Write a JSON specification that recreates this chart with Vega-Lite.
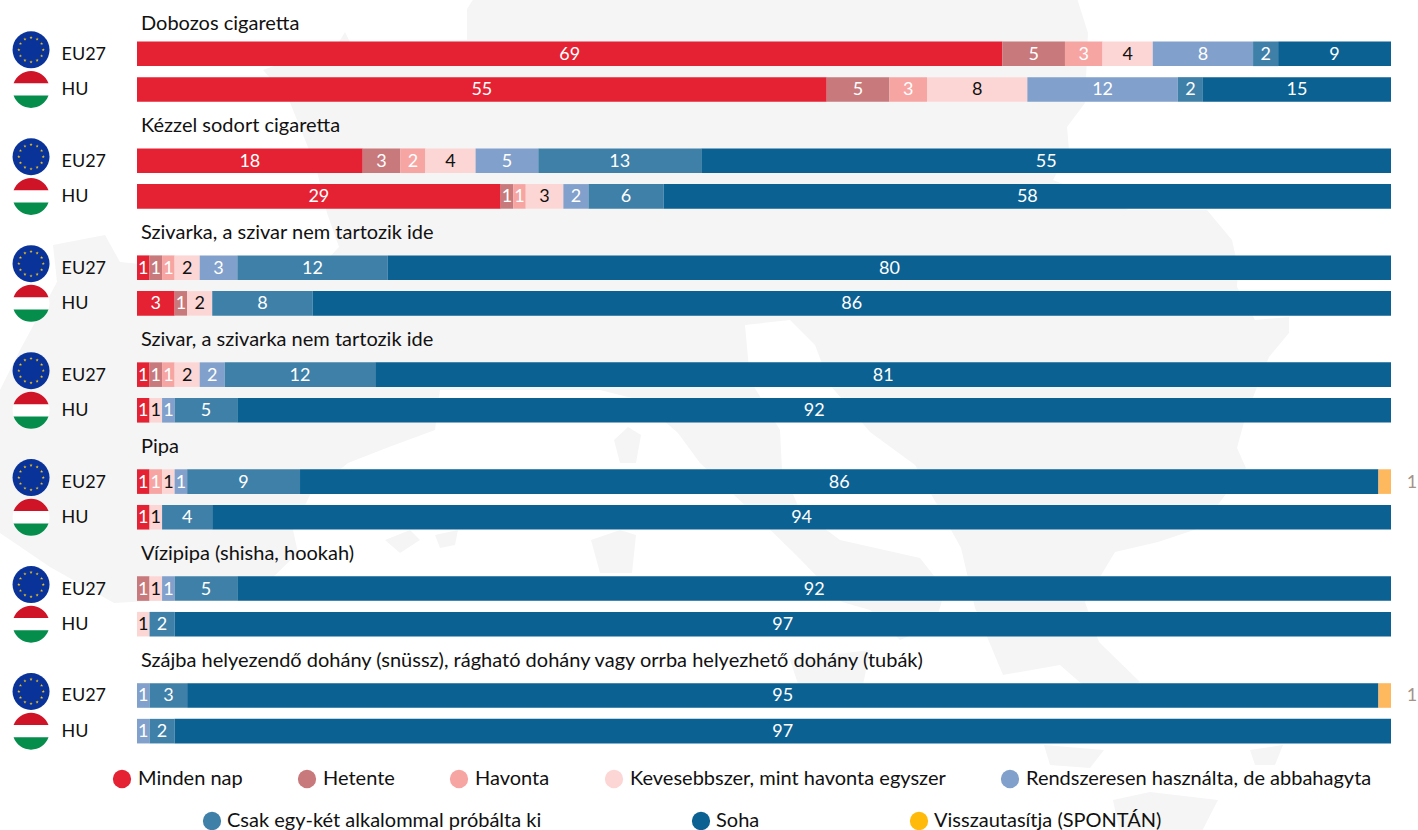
{
"$schema":"https://vega.github.io/schema/vega-lite/v6.json",
"width":1418,"height":830,"autosize":{"type":"none"},"padding":0,"background":"white",
"config":{"view":{"stroke":null},"font":"Lato","text":{"font":"Lato"}},
"datasets":{
"adatok":[
{"termek":"Dobozos cigaretta","orszag":"EU27","kategoria":"Minden nap","ertek":69},
{"termek":"Dobozos cigaretta","orszag":"EU27","kategoria":"Hetente","ertek":5},
{"termek":"Dobozos cigaretta","orszag":"EU27","kategoria":"Havonta","ertek":3},
{"termek":"Dobozos cigaretta","orszag":"EU27","kategoria":"Kevesebbszer, mint havonta egyszer","ertek":4},
{"termek":"Dobozos cigaretta","orszag":"EU27","kategoria":"Rendszeresen használta, de abbahagyta","ertek":8},
{"termek":"Dobozos cigaretta","orszag":"EU27","kategoria":"Csak egy-két alkalommal próbálta ki","ertek":2},
{"termek":"Dobozos cigaretta","orszag":"EU27","kategoria":"Soha","ertek":9},
{"termek":"Dobozos cigaretta","orszag":"HU","kategoria":"Minden nap","ertek":55},
{"termek":"Dobozos cigaretta","orszag":"HU","kategoria":"Hetente","ertek":5},
{"termek":"Dobozos cigaretta","orszag":"HU","kategoria":"Havonta","ertek":3},
{"termek":"Dobozos cigaretta","orszag":"HU","kategoria":"Kevesebbszer, mint havonta egyszer","ertek":8},
{"termek":"Dobozos cigaretta","orszag":"HU","kategoria":"Rendszeresen használta, de abbahagyta","ertek":12},
{"termek":"Dobozos cigaretta","orszag":"HU","kategoria":"Csak egy-két alkalommal próbálta ki","ertek":2},
{"termek":"Dobozos cigaretta","orszag":"HU","kategoria":"Soha","ertek":15},
{"termek":"Kézzel sodort cigaretta","orszag":"EU27","kategoria":"Minden nap","ertek":18},
{"termek":"Kézzel sodort cigaretta","orszag":"EU27","kategoria":"Hetente","ertek":3},
{"termek":"Kézzel sodort cigaretta","orszag":"EU27","kategoria":"Havonta","ertek":2},
{"termek":"Kézzel sodort cigaretta","orszag":"EU27","kategoria":"Kevesebbszer, mint havonta egyszer","ertek":4},
{"termek":"Kézzel sodort cigaretta","orszag":"EU27","kategoria":"Rendszeresen használta, de abbahagyta","ertek":5},
{"termek":"Kézzel sodort cigaretta","orszag":"EU27","kategoria":"Csak egy-két alkalommal próbálta ki","ertek":13},
{"termek":"Kézzel sodort cigaretta","orszag":"EU27","kategoria":"Soha","ertek":55},
{"termek":"Kézzel sodort cigaretta","orszag":"HU","kategoria":"Minden nap","ertek":29},
{"termek":"Kézzel sodort cigaretta","orszag":"HU","kategoria":"Hetente","ertek":1},
{"termek":"Kézzel sodort cigaretta","orszag":"HU","kategoria":"Havonta","ertek":1},
{"termek":"Kézzel sodort cigaretta","orszag":"HU","kategoria":"Kevesebbszer, mint havonta egyszer","ertek":3},
{"termek":"Kézzel sodort cigaretta","orszag":"HU","kategoria":"Rendszeresen használta, de abbahagyta","ertek":2},
{"termek":"Kézzel sodort cigaretta","orszag":"HU","kategoria":"Csak egy-két alkalommal próbálta ki","ertek":6},
{"termek":"Kézzel sodort cigaretta","orszag":"HU","kategoria":"Soha","ertek":58},
{"termek":"Szivarka, a szivar nem tartozik ide","orszag":"EU27","kategoria":"Minden nap","ertek":1},
{"termek":"Szivarka, a szivar nem tartozik ide","orszag":"EU27","kategoria":"Hetente","ertek":1},
{"termek":"Szivarka, a szivar nem tartozik ide","orszag":"EU27","kategoria":"Havonta","ertek":1},
{"termek":"Szivarka, a szivar nem tartozik ide","orszag":"EU27","kategoria":"Kevesebbszer, mint havonta egyszer","ertek":2},
{"termek":"Szivarka, a szivar nem tartozik ide","orszag":"EU27","kategoria":"Rendszeresen használta, de abbahagyta","ertek":3},
{"termek":"Szivarka, a szivar nem tartozik ide","orszag":"EU27","kategoria":"Csak egy-két alkalommal próbálta ki","ertek":12},
{"termek":"Szivarka, a szivar nem tartozik ide","orszag":"EU27","kategoria":"Soha","ertek":80},
{"termek":"Szivarka, a szivar nem tartozik ide","orszag":"HU","kategoria":"Minden nap","ertek":3},
{"termek":"Szivarka, a szivar nem tartozik ide","orszag":"HU","kategoria":"Hetente","ertek":1},
{"termek":"Szivarka, a szivar nem tartozik ide","orszag":"HU","kategoria":"Kevesebbszer, mint havonta egyszer","ertek":2},
{"termek":"Szivarka, a szivar nem tartozik ide","orszag":"HU","kategoria":"Csak egy-két alkalommal próbálta ki","ertek":8},
{"termek":"Szivarka, a szivar nem tartozik ide","orszag":"HU","kategoria":"Soha","ertek":86},
{"termek":"Szivar, a szivarka nem tartozik ide","orszag":"EU27","kategoria":"Minden nap","ertek":1},
{"termek":"Szivar, a szivarka nem tartozik ide","orszag":"EU27","kategoria":"Hetente","ertek":1},
{"termek":"Szivar, a szivarka nem tartozik ide","orszag":"EU27","kategoria":"Havonta","ertek":1},
{"termek":"Szivar, a szivarka nem tartozik ide","orszag":"EU27","kategoria":"Kevesebbszer, mint havonta egyszer","ertek":2},
{"termek":"Szivar, a szivarka nem tartozik ide","orszag":"EU27","kategoria":"Rendszeresen használta, de abbahagyta","ertek":2},
{"termek":"Szivar, a szivarka nem tartozik ide","orszag":"EU27","kategoria":"Csak egy-két alkalommal próbálta ki","ertek":12},
{"termek":"Szivar, a szivarka nem tartozik ide","orszag":"EU27","kategoria":"Soha","ertek":81},
{"termek":"Szivar, a szivarka nem tartozik ide","orszag":"HU","kategoria":"Minden nap","ertek":1},
{"termek":"Szivar, a szivarka nem tartozik ide","orszag":"HU","kategoria":"Kevesebbszer, mint havonta egyszer","ertek":1},
{"termek":"Szivar, a szivarka nem tartozik ide","orszag":"HU","kategoria":"Rendszeresen használta, de abbahagyta","ertek":1},
{"termek":"Szivar, a szivarka nem tartozik ide","orszag":"HU","kategoria":"Csak egy-két alkalommal próbálta ki","ertek":5},
{"termek":"Szivar, a szivarka nem tartozik ide","orszag":"HU","kategoria":"Soha","ertek":92},
{"termek":"Pipa","orszag":"EU27","kategoria":"Minden nap","ertek":1},
{"termek":"Pipa","orszag":"EU27","kategoria":"Havonta","ertek":1},
{"termek":"Pipa","orszag":"EU27","kategoria":"Kevesebbszer, mint havonta egyszer","ertek":1},
{"termek":"Pipa","orszag":"EU27","kategoria":"Rendszeresen használta, de abbahagyta","ertek":1},
{"termek":"Pipa","orszag":"EU27","kategoria":"Csak egy-két alkalommal próbálta ki","ertek":9},
{"termek":"Pipa","orszag":"EU27","kategoria":"Soha","ertek":86},
{"termek":"Pipa","orszag":"EU27","kategoria":"Visszautasítja (SPONTÁN)","ertek":1},
{"termek":"Pipa","orszag":"HU","kategoria":"Minden nap","ertek":1},
{"termek":"Pipa","orszag":"HU","kategoria":"Kevesebbszer, mint havonta egyszer","ertek":1},
{"termek":"Pipa","orszag":"HU","kategoria":"Csak egy-két alkalommal próbálta ki","ertek":4},
{"termek":"Pipa","orszag":"HU","kategoria":"Soha","ertek":94},
{"termek":"Vízipipa (shisha, hookah)","orszag":"EU27","kategoria":"Hetente","ertek":1},
{"termek":"Vízipipa (shisha, hookah)","orszag":"EU27","kategoria":"Kevesebbszer, mint havonta egyszer","ertek":1},
{"termek":"Vízipipa (shisha, hookah)","orszag":"EU27","kategoria":"Rendszeresen használta, de abbahagyta","ertek":1},
{"termek":"Vízipipa (shisha, hookah)","orszag":"EU27","kategoria":"Csak egy-két alkalommal próbálta ki","ertek":5},
{"termek":"Vízipipa (shisha, hookah)","orszag":"EU27","kategoria":"Soha","ertek":92},
{"termek":"Vízipipa (shisha, hookah)","orszag":"HU","kategoria":"Kevesebbszer, mint havonta egyszer","ertek":1},
{"termek":"Vízipipa (shisha, hookah)","orszag":"HU","kategoria":"Csak egy-két alkalommal próbálta ki","ertek":2},
{"termek":"Vízipipa (shisha, hookah)","orszag":"HU","kategoria":"Soha","ertek":97},
{"termek":"Szájba helyezendő dohány (snüssz), rágható dohány vagy orrba helyezhető dohány (tubák)","orszag":"EU27","kategoria":"Rendszeresen használta, de abbahagyta","ertek":1},
{"termek":"Szájba helyezendő dohány (snüssz), rágható dohány vagy orrba helyezhető dohány (tubák)","orszag":"EU27","kategoria":"Csak egy-két alkalommal próbálta ki","ertek":3},
{"termek":"Szájba helyezendő dohány (snüssz), rágható dohány vagy orrba helyezhető dohány (tubák)","orszag":"EU27","kategoria":"Soha","ertek":95},
{"termek":"Szájba helyezendő dohány (snüssz), rágható dohány vagy orrba helyezhető dohány (tubák)","orszag":"EU27","kategoria":"Visszautasítja (SPONTÁN)","ertek":1},
{"termek":"Szájba helyezendő dohány (snüssz), rágható dohány vagy orrba helyezhető dohány (tubák)","orszag":"HU","kategoria":"Rendszeresen használta, de abbahagyta","ertek":1},
{"termek":"Szájba helyezendő dohány (snüssz), rágható dohány vagy orrba helyezhető dohány (tubák)","orszag":"HU","kategoria":"Csak egy-két alkalommal próbálta ki","ertek":2},
{"termek":"Szájba helyezendő dohány (snüssz), rágható dohány vagy orrba helyezhető dohány (tubák)","orszag":"HU","kategoria":"Soha","ertek":97}
],
"termekek":[
{"termek":"Dobozos cigaretta"},
{"termek":"Kézzel sodort cigaretta"},
{"termek":"Szivarka, a szivar nem tartozik ide"},
{"termek":"Szivar, a szivarka nem tartozik ide"},
{"termek":"Pipa"},
{"termek":"Vízipipa (shisha, hookah)"},
{"termek":"Szájba helyezendő dohány (snüssz), rágható dohány vagy orrba helyezhető dohány (tubák)"}
]
},
"layer":[
{"data":{"values":{"type":"FeatureCollection","features":[
{"type":"Feature","properties":{"nev":"EU"},"geometry":{"type":"MultiPolygon","coordinates":[
[[[467,9],[476,-5],[1076,-5],[1088,33],[1085,103],[1067,127],[1069,150],[1053,180],[1129,210],[1207,210],[1232,240],[1238,267],[1237,287],[1255,320],[1289,317],[1289,333],[1269,357],[1246,415],[1237,448],[1246,468],[1200,528],[1158,542],[1115,552],[1085,602],[1099,642],[1140,682],[1100,700],[1060,665],[1003,675],[975,608],[961,548],[915,465],[870,432],[830,385],[815,345],[790,320],[745,325],[750,380],[780,430],[782,470],[800,510],[840,540],[920,558],[945,590],[935,625],[900,640],[870,610],[842,602],[796,555],[750,510],[700,463],[678,433],[640,400],[600,390],[440,390],[435,430],[389,447],[348,463],[311,493],[293,530],[298,553],[270,580],[200,598],[114,603],[50,567],[0,533],[-5,533],[-5,400],[20,350],[57,282],[53,245],[105,235],[120,262],[200,270],[325,262],[339,247],[327,213],[316,167],[289,100],[263,70],[339,42],[345,32],[350,42],[467,40],[467,9]]],
[[[614,440],[628,427],[641,435],[636,463],[620,463],[614,440]]],
[[[591,540],[620,530],[636,535],[632,573],[600,573],[591,540]]],
[[[385,540],[410,530],[420,540],[400,553],[385,540]]],
[[[435,535],[458,530],[455,545],[440,548],[435,535]]],
[[[790,660],[870,650],[860,700],[800,690],[790,660]]],
[[[1044,745],[1104,750],[1090,768],[1050,765],[1044,745]]],
[[[1250,750],[1283,745],[1275,765],[1255,765],[1250,750]]],
[[[1113,800],[1150,792],[1218,800],[1200,835],[1120,835],[1113,800]]]
]}}
]},"format":{"type":"json","property":"features"}},
"mark":{"type":"geoshape","fill":"#f5f5f5","stroke":null},
"projection":{"type":"identity","scale":1,"translate":[0,0]}},
{"encoding":{"y":{"field":"sor","type":"nominal","scale":{"type":"band","range":[-5.2,754.5],"paddingInner":0.31,"paddingOuter":0.31,
"domain":["Dobozos cigaretta|","Dobozos cigaretta|EU27","Dobozos cigaretta|HU","Kézzel sodort cigaretta|","Kézzel sodort cigaretta|EU27","Kézzel sodort cigaretta|HU","Szivarka, a szivar nem tartozik ide|","Szivarka, a szivar nem tartozik ide|EU27","Szivarka, a szivar nem tartozik ide|HU","Szivar, a szivarka nem tartozik ide|","Szivar, a szivarka nem tartozik ide|EU27","Szivar, a szivarka nem tartozik ide|HU","Pipa|","Pipa|EU27","Pipa|HU","Vízipipa (shisha, hookah)|","Vízipipa (shisha, hookah)|EU27","Vízipipa (shisha, hookah)|HU","Szájba helyezendő dohány (snüssz), rágható dohány vagy orrba helyezhető dohány (tubák)|","Szájba helyezendő dohány (snüssz), rágható dohány vagy orrba helyezhető dohány (tubák)|EU27","Szájba helyezendő dohány (snüssz), rágható dohány vagy orrba helyezhető dohány (tubák)|HU"]},
"axis":{"title":null,"domain":false,"ticks":false,"grid":false,"labelExpr":"split(datum.value,'|')[1]","labelAlign":"left","labelPadding":0,"labelOffset":1,"offset":-61,"labelFont":"Lato","labelFontSize":18,"labelColor":"#111111","labelOverlap":false,"labelLimit":100,"zindex":1}}},
"layer":[
{"data":{"name":"adatok"},"transform":[{"calculate":"datum.termek+'|'+datum.orszag","as":"sor"},{"stack":"ertek","groupby":["sor"],"as":["s0","s1"]},{"filter":"indexof(['Minden nap','Hetente','Havonta','Kevesebbszer, mint havonta egyszer','Rendszeresen használta, de abbahagyta'],datum.kategoria)>=0"}],
"mark":{"type":"bar"},
"encoding":{"x":{"field":"s0","type":"quantitative","scale":{"domain":[0,100],"range":[137,1391],"nice":false},"axis":null},"x2":{"field":"s1"},
"color":{"field":"kategoria","type":"nominal","sort":null,"scale":{"domain":["Minden nap","Hetente","Havonta","Kevesebbszer, mint havonta egyszer","Rendszeresen használta, de abbahagyta"],"range":["#e42233","#c8797b","#f6a5a3","#fcd6d5","#81a0cb"]},
"legend":{"title":null,"orient":"none","legendX":112,"legendY":769,"columns":5,"direction":"horizontal","columnPadding":54,"symbolType":"circle","symbolSize":335,"labelFont":"Lato","labelFontSize":20,"labelColor":"#111111","labelOffset":6,"labelLimit":500,"padding":0,"symbolStrokeWidth":0,"symbolOpacity":1}}}},
{"data":{"name":"adatok"},"transform":[{"calculate":"datum.termek+'|'+datum.orszag","as":"sor"},{"stack":"ertek","groupby":["sor"],"as":["s0","s1"]},{"filter":"indexof(['Csak egy-két alkalommal próbálta ki','Soha'],datum.kategoria)>=0"}],
"mark":{"type":"bar"},
"encoding":{"x":{"field":"s0","type":"quantitative"},"x2":{"field":"s1"},
"color":{"field":"kategoria","type":"nominal","sort":null,"scale":{"domain":["Csak egy-két alkalommal próbálta ki","Soha","Visszautasítja (SPONTÁN)"],"range":["#3f80a9","#0c6193","#ffba0a"]},
"legend":{"title":null,"orient":"none","legendX":202,"legendY":811,"columns":3,"direction":"horizontal","columnPadding":149,"symbolType":"circle","symbolSize":335,"labelFont":"Lato","labelFontSize":20,"labelColor":"#111111","labelOffset":5,"labelLimit":500,"padding":0,"symbolStrokeWidth":0,"symbolOpacity":1}}}},
{"data":{"name":"adatok"},"transform":[{"calculate":"datum.termek+'|'+datum.orszag","as":"sor"},{"stack":"ertek","groupby":["sor"],"as":["s0","s1"]},{"filter":"datum.kategoria==='Visszautasítja (SPONTÁN)'"}],
"mark":{"type":"bar","color":"#feb85e"},
"encoding":{"x":{"field":"s0","type":"quantitative"},"x2":{"field":"s1"}}},
{"data":{"name":"adatok"},"transform":[{"calculate":"datum.termek+'|'+datum.orszag","as":"sor"},{"stack":"ertek","groupby":["sor"],"as":["s0","s1"]},{"calculate":"(datum.s0+datum.s1)/2","as":"kozep"},{"filter":"datum.kategoria!=='Visszautasítja (SPONTÁN)'"}],
"mark":{"type":"text","font":"Lato","fontSize":18,"baseline":"middle","align":"center","dy":1},
"encoding":{"x":{"field":"kozep","type":"quantitative"},"text":{"field":"ertek","type":"quantitative"},
"color":{"condition":{"test":"datum.kategoria==='Kevesebbszer, mint havonta egyszer'","value":"#111111"},"value":"#ffffff"}}},
{"data":{"name":"adatok"},"transform":[{"calculate":"datum.termek+'|'+datum.orszag","as":"sor"},{"stack":"ertek","groupby":["sor"],"as":["s0","s1"]},{"filter":"datum.kategoria==='Visszautasítja (SPONTÁN)'"}],
"mark":{"type":"text","font":"Lato","fontSize":18,"baseline":"middle","align":"center","dx":21,"dy":1,"color":"#a59389"},
"encoding":{"x":{"field":"s1","type":"quantitative"},"text":{"field":"ertek","type":"quantitative"}}},
{"data":{"name":"termekek"},"transform":[{"calculate":"datum.termek+'|'","as":"sor"},{"filter":"datum.termek!=='Dobozos cigaretta'"}],
"mark":{"type":"text","font":"Lato","fontSize":20,"baseline":"middle","align":"left","dx":4,"dy":1,"color":"#111111"},
"encoding":{"x":{"datum":0,"type":"quantitative"},"text":{"field":"termek"}}},
{"data":{"name":"termekek"},"transform":[{"calculate":"datum.termek+'|'","as":"sor"},{"filter":"datum.termek==='Dobozos cigaretta'"}],
"mark":{"type":"text","font":"Lato","fontSize":20,"baseline":"middle","align":"left","dx":4,"dy":6,"color":"#111111"},
"encoding":{"x":{"datum":0,"type":"quantitative"},"text":{"field":"termek"}}},
{"data":{"name":"termekek"},"transform":[{"calculate":"datum.termek+'|EU27'","as":"sor"}],
"mark":{"type":"point","filled":true,"shape":"circle","size":1369,"color":"#0a3399","opacity":1,"yOffset":-4},
"encoding":{"x":{"datum":-8.45,"type":"quantitative"}}},
{"data":{"name":"termekek"},"transform":[{"calculate":"datum.termek+'|EU27'","as":"sor"}],
"mark":{"type":"point","filled":true,"size":1369,"color":"#f2c41a","opacity":1,"yOffset":-4,
"shape":"M0 -0.75l0.021 0.062 0.065 0 -0.053 0.039 0.02 0.062 -0.053 -0.038 -0.053 0.038 0.02 -0.062 -0.053 -0.039 0.065 0zM0.33 -0.662l0.021 0.062 0.065 0 -0.053 0.039 0.02 0.062 -0.053 -0.038 -0.053 0.038 0.02 -0.062 -0.053 -0.039 0.065 0zM0.572 -0.42l0.021 0.062 0.065 0 -0.053 0.039 0.02 0.062 -0.053 -0.038 -0.053 0.038 0.02 -0.062 -0.053 -0.039 0.065 0zM0.66 -0.09l0.021 0.062 0.065 0 -0.053 0.039 0.02 0.062 -0.053 -0.038 -0.053 0.038 0.02 -0.062 -0.053 -0.039 0.065 0zM0.572 0.24l0.021 0.062 0.065 0 -0.053 0.039 0.02 0.062 -0.053 -0.038 -0.053 0.038 0.02 -0.062 -0.053 -0.039 0.065 0zM0.33 0.482l0.021 0.062 0.065 0 -0.053 0.039 0.02 0.062 -0.053 -0.038 -0.053 0.038 0.02 -0.062 -0.053 -0.039 0.065 0zM0 0.57l0.021 0.062 0.065 0 -0.053 0.039 0.02 0.062 -0.053 -0.038 -0.053 0.038 0.02 -0.062 -0.053 -0.039 0.065 0zM-0.33 0.482l0.021 0.062 0.065 0 -0.053 0.039 0.02 0.062 -0.053 -0.038 -0.053 0.038 0.02 -0.062 -0.053 -0.039 0.065 0zM-0.572 0.24l0.021 0.062 0.065 0 -0.053 0.039 0.02 0.062 -0.053 -0.038 -0.053 0.038 0.02 -0.062 -0.053 -0.039 0.065 0zM-0.66 -0.09l0.021 0.062 0.065 0 -0.053 0.039 0.02 0.062 -0.053 -0.038 -0.053 0.038 0.02 -0.062 -0.053 -0.039 0.065 0zM-0.572 -0.42l0.021 0.062 0.065 0 -0.053 0.039 0.02 0.062 -0.053 -0.038 -0.053 0.038 0.02 -0.062 -0.053 -0.039 0.065 0zM-0.33 -0.662l0.021 0.062 0.065 0 -0.053 0.039 0.02 0.062 -0.053 -0.038 -0.053 0.038 0.02 -0.062 -0.053 -0.039 0.065 0z"},
"encoding":{"x":{"datum":-8.45,"type":"quantitative"}}},
{"data":{"name":"termekek"},"transform":[{"calculate":"datum.termek+'|HU'","as":"sor"}],
"mark":{"type":"point","filled":true,"size":1369,"color":"#ffffff","opacity":1,"shape":"circle"},
"encoding":{"x":{"datum":-8.45,"type":"quantitative"}}},
{"data":{"name":"termekek"},"transform":[{"calculate":"datum.termek+'|HU'","as":"sor"}],
"mark":{"type":"point","filled":true,"size":1369,"color":"#cf1428","opacity":1,"shape":"M-0.943 -0.333A1 1 0 0 1 0.943 -0.333Z"},
"encoding":{"x":{"datum":-8.45,"type":"quantitative"}}},
{"data":{"name":"termekek"},"transform":[{"calculate":"datum.termek+'|HU'","as":"sor"}],
"mark":{"type":"point","filled":true,"size":1369,"color":"#058d4c","opacity":1,"shape":"M-0.943 0.333A1 1 0 0 0 0.943 0.333Z"},
"encoding":{"x":{"datum":-8.45,"type":"quantitative"}}}
],
"resolve":{"scale":{"color":"independent"}}
}
]
}
